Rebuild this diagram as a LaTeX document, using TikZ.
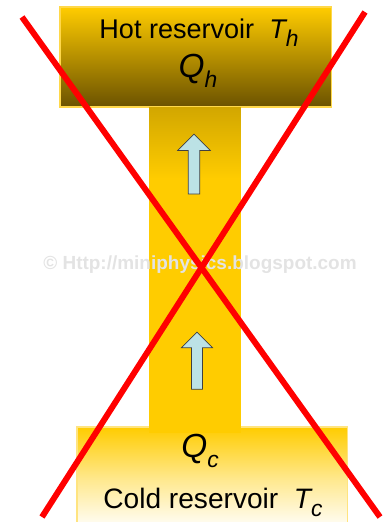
\documentclass[tikz,border=0pt]{standalone}
\usepackage{fontspec}
\setmainfont{Liberation Sans}
\usetikzlibrary{shapes.arrows}
\definecolor{resyellow}{HTML}{FFCC00}
\definecolor{resbrown}{HTML}{6B5200}
\definecolor{resedge}{HTML}{FFD84A}
\definecolor{arrowblue}{HTML}{BCE2E5}
\definecolor{crossred}{HTML}{FF0000}
\pgfdeclareverticalshading{stemshade}{100bp}{color(0bp)=(resyellow); color(64bp)=(resyellow); color(100bp)=(resbrown)}
\newcommand{\lowsub}[1]{\raisebox{-0.3em}{\fontsize{13pt}{13pt}\selectfont\itshape #1}}

\begin{document}
\begin{tikzpicture}[x=0.02cm, y=-0.02cm]
\useasboundingbox (0,0) rectangle (385,522);

% reservoirs and the heat channel
\node[rectangle, draw=resedge, line width=0.6pt, top color=resyellow,
      bottom color=resbrown, minimum width=5.44cm, minimum height=2cm,
      inner sep=0] (hot) at (196,57) {};
\node[rectangle, draw=resedge!70, line width=0.6pt, top color=resyellow,
      bottom color=white, middle color=resyellow!45, minimum width=5.42cm,
      minimum height=2.06cm, inner sep=0] (cold) at (212.5,478.5) {};
\node[rectangle, shading=stemshade, minimum width=1.84cm,
      minimum height=6.52cm, inner sep=0] (stem) at (195,270) {};

% flow arrows
\node[single arrow, draw=black!75, fill=arrowblue, rotate=90, inner xsep=0,
      inner ysep=0.11cm, minimum height=1.2cm, single arrow head extend=0.21cm,
      single arrow tip angle=90] (up1) at (194,167) {};
\node[single arrow, draw=black!75, fill=arrowblue, rotate=90, inner xsep=0,
      inner ysep=0.105cm, minimum height=1.14cm, single arrow head extend=0.2cm,
      single arrow tip angle=90] (up2) at (197,363.5) {};

% labels
\node[anchor=base, font=\fontsize{15.4}{18}\selectfont] (hotlbl) at (199,38)
  {Hot reservoir\ \ {\itshape T}\lowsub{h}};
\node[anchor=base, font=\fontsize{19}{21}\selectfont\itshape] (qh) at (198,77)
  {Q\lowsub{h}};
\node[anchor=base, font=\fontsize{19}{21}\selectfont\itshape] (qc) at (200,457)
  {Q\lowsub{c}};
\node[anchor=base, font=\fontsize{16}{18}\selectfont] (coldlbl) at (213,508)
  {Cold reservoir\ \ {\itshape T}\lowsub{c}};
\node[font=\fontsize{10.8}{13}\selectfont\bfseries, text=gray!22] (mark) at (200,265)
  {© Http://miniphysics.blogspot.com};

% the cross
\coordinate (tl) at (22,17);
\coordinate (br) at (380,517);
\coordinate (tr) at (365,12);
\coordinate (bl) at (42,517);
\draw[crossred, line width=3.4pt] (tl) -- (br);
\draw[crossred, line width=3.4pt] (tr) -- (bl);
\end{tikzpicture}
\end{document}
